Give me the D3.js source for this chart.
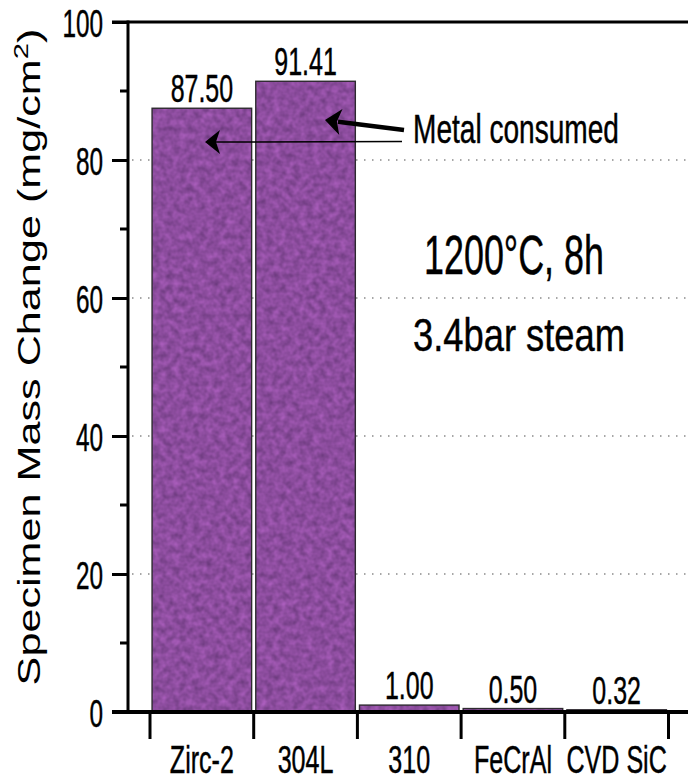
<!DOCTYPE html>
<html>
<head>
<meta charset="utf-8">
<script src="https://cdn.jsdelivr.net/npm/d3@7/dist/d3.min.js"></script>
<style>
  html, body { margin: 0; padding: 0; background: #fff; }
  svg { display: block; }
  text { font-family: "Liberation Sans", Arial, Helvetica, sans-serif; fill: #000; stroke: #000; stroke-width: 0.45; }
</style>
</head>
<body>
<script>
// ---- data ----
const categories = ["Zirc-2", "304L", "310", "FeCrAl", "CVD SiC"];
const massChange = [87.50, 91.41, 1.00, 0.50, 0.32];
const yTicks = [0, 20, 40, 60, 80, 100];
const yMinorTicks = [10, 30, 50, 70, 90];
const gridValues = [20, 40, 60, 80];
const yLabel = "Specimen Mass Change (mg/cm";
const conditionLines = ["1200°C, 8h", "3.4bar steam"];
const arrowText = "Metal consumed";

// ---- layout ----
const W = 688, H = 781;
const svg = d3.select("body").append("svg").attr("width", W).attr("height", H);

const y = d3.scaleLinear().domain([0, 100]).range([712, 22]);
const x = d3.scaleBand().domain(categories).range([150, 668.5])
  .paddingInner(0.04).paddingOuter(0.02);
const axisX = 128;
const kNarrow = 0.64;

// texture filter for bars
const defs = svg.append("defs");
const f = defs.append("filter").attr("id", "tex")
  .attr("x", 0).attr("y", 0).attr("width", 1).attr("height", 1)
  .attr("color-interpolation-filters", "sRGB");
f.append("feTurbulence").attr("type", "fractalNoise").attr("baseFrequency", 0.15)
  .attr("numOctaves", 2).attr("seed", 7).attr("result", "noise");
f.append("feColorMatrix").attr("in", "noise").attr("type", "matrix")
  .attr("values", "0.30 0 0 0 0.40  0.17 0 0 0 0.215  0.30 0 0 0 0.47  0 0 0 0 1")
  .attr("result", "col");
f.append("feComposite").attr("in", "col").attr("in2", "SourceGraphic").attr("operator", "in");

// grid lines (dotted)
svg.append("g").selectAll("line").data(gridValues).join("line")
  .attr("x1", axisX + 4).attr("x2", W)
  .attr("y1", d => y(d)).attr("y2", d => y(d))
  .attr("stroke", "#8a8a8a").attr("stroke-width", 1.5)
  .attr("stroke-dasharray", "1.5,6.5");

// bars
const bars = svg.append("g");
bars.selectAll("rect.fill").data(massChange).join("rect").attr("class", "fill")
  .attr("x", (d, i) => x(categories[i]))
  .attr("y", d => y(d))
  .attr("width", x.bandwidth())
  .attr("height", d => y(0) - y(d))
  .attr("fill", "#8d4f9c")
  .attr("filter", "url(#tex)");
bars.selectAll("rect.edge").data(massChange).join("rect").attr("class", "edge")
  .attr("x", (d, i) => x(categories[i]))
  .attr("y", d => y(d))
  .attr("width", x.bandwidth())
  .attr("height", d => y(0) - y(d))
  .attr("fill", "none")
  .attr("stroke", "#2e2a30").attr("stroke-width", 1.4);

// value labels
bars.selectAll("text").data(massChange).join("text")
  .attr("transform", (d, i) => `translate(${x(categories[i]) + x.bandwidth() / 2},${y(d) - 6}) scale(${kNarrow},1)`)
  .attr("text-anchor", "middle")
  .attr("font-size", 39)
  .text(d => d.toFixed(2));

// top frame line
svg.append("line").attr("x1", 112).attr("x2", W).attr("y1", y(100)).attr("y2", y(100))
  .attr("stroke", "#000").attr("stroke-width", 3.2);

// y axis
const yAxisG = svg.append("g").attr("transform", `translate(${axisX},0)`)
  .call(d3.axisLeft(y).tickValues(yTicks).tickSize(16).tickFormat(d3.format("d")));
yAxisG.select(".domain").remove();
yAxisG.selectAll(".tick line").attr("stroke", "#000").attr("stroke-width", 3);
yAxisG.selectAll(".tick text")
  .attr("x", null).attr("dy", null)
  .attr("transform", `translate(-25,14) scale(${kNarrow},1)`)
  .attr("font-size", 38).attr("font-family", null).attr("fill", "#000")
  .attr("text-anchor", "end");
yAxisG.selectAll(".minor").data(yMinorTicks).join("line").attr("class", "minor")
  .attr("x1", -8).attr("x2", 0).attr("y1", d => y(d)).attr("y2", d => y(d))
  .attr("stroke", "#000").attr("stroke-width", 3);
svg.append("line").attr("x1", axisX).attr("x2", axisX).attr("y1", y(100) - 1.5).attr("y2", y(0))
  .attr("stroke", "#000").attr("stroke-width", 3);

// x axis
svg.append("line").attr("x1", 112).attr("x2", W).attr("y1", y(0)).attr("y2", y(0))
  .attr("stroke", "#000").attr("stroke-width", 3.8);
const step = x.step();
const boundaries = d3.range(categories.length + 1)
  .map(i => x(categories[0]) - step * x.paddingInner() / 2 + i * step);
svg.append("g").selectAll("line").data(boundaries).join("line")
  .attr("x1", d => d).attr("x2", d => d).attr("y1", y(0)).attr("y2", y(0) + 27)
  .attr("stroke", "#000").attr("stroke-width", 3);
const xAxisG = svg.append("g").attr("transform", `translate(0,${y(0)})`)
  .call(d3.axisBottom(x).tickSize(0));
xAxisG.select(".domain").remove();
xAxisG.selectAll(".tick text")
  .attr("y", null).attr("dy", null)
  .attr("transform", `translate(0,61) scale(0.66,1)`)
  .attr("font-size", 38).attr("font-family", null).attr("fill", "#000");

// y axis label
const yl = svg.append("text")
  .attr("text-anchor", "middle").attr("font-size", 31).style("stroke-width", "0");
yl.append("tspan").text(yLabel);
yl.append("tspan").attr("font-size", 21).attr("dy", -12).text("2");
yl.append("tspan").attr("dy", 12).text(")");
const ylLen = yl.node().getComputedTextLength();
yl.attr("transform", `translate(40,357) rotate(-90) scale(${657 / ylLen},1)`);

// condition annotation
function fitText(sel, cx, baseline, target, anchor) {
  const len = sel.node().getComputedTextLength();
  sel.attr("text-anchor", anchor)
    .attr("transform", `translate(${cx},${baseline}) scale(${target / len},1)`);
}
const t1 = svg.append("text").attr("font-size", 56).text(conditionLines[0]);
fitText(t1, 514, 274, 180, "middle");
const t2 = svg.append("text").attr("font-size", 47).text(conditionLines[1]);
fitText(t2, 519, 351, 212, "middle");
const t3 = svg.append("text").attr("font-size", 40.5).text(arrowText);
fitText(t3, 413, 143, 206, "start");

// arrows
function arrowHead(tip, from, len, half, notch) {
  const dx = from[0] - tip[0], dy = from[1] - tip[1];
  const L = Math.hypot(dx, dy), ux = dx / L, uy = dy / L, px = -uy, py = ux;
  const bx = tip[0] + ux * len, by = tip[1] + uy * len;
  const nx = tip[0] + ux * (len - notch), ny = tip[1] + uy * (len - notch);
  return `M${tip[0]},${tip[1]}L${bx + px * half},${by + py * half}L${nx},${ny}L${bx - px * half},${by - py * half}Z`;
}
// thick arrow to 304L
const thickTail = [404, 130], thickTip = [325, 120];
svg.append("line").attr("x1", thickTail[0]).attr("y1", thickTail[1])
  .attr("x2", 338).attr("y2", 121.7)
  .attr("stroke", "#000").attr("stroke-width", 4.5);
svg.append("path").attr("d", arrowHead(thickTip, thickTail, 16, 13, 4)).attr("fill", "#000");
// thin arrow to Zirc-2
const thinTail = [402, 141.5], thinTip = [205, 142];
svg.append("line").attr("x1", thinTail[0]).attr("y1", thinTail[1])
  .attr("x2", 216).attr("y2", 142)
  .attr("stroke", "#000").attr("stroke-width", 1.5);
svg.append("path").attr("d", arrowHead(thinTip, thinTail, 15, 12, 4)).attr("fill", "#000");
</script>
</body>
</html>
